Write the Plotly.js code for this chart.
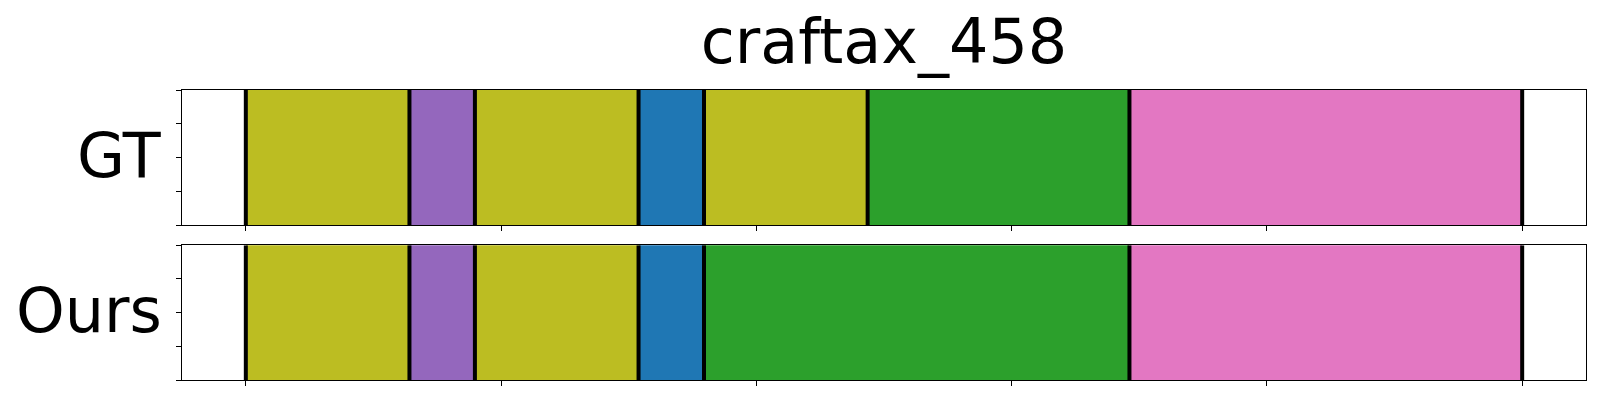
<!DOCTYPE html>
<html>
<head>
<meta charset="utf-8">
<script src="https://cdn.plot.ly/plotly-3.0.1.min.js"></script>
<style>html,body{margin:0;padding:0;background:#fff;}#chart{width:1600px;height:400px;}</style>
</head>
<body>
<div id="chart"></div>
<script>
// Segment data (category ids and lengths in steps)
var chartTitle = "craftax_458";
var rowLabels = ["GT", "Ours"];
var gtSegments = [8, 4, 8, 0, 8, 2, 6];
var gtLengths  = [5, 2, 5, 2, 5, 8, 12];
var oursSegments = [8, 4, 8, 0, 2, 6];
var oursLengths  = [5, 2, 5, 2, 13, 12];
var categoryColors = ["#1f77b4", "#ff7f0e", "#2ca02c", "#d62728", "#9467bd",
                      "#8c564b", "#e377c2", "#7f7f7f", "#bcbd22", "#17becf"];
var xTicks = [0, 0.2, 0.4, 0.6, 0.8, 1.0];
var yTicks = [0, 0.25, 0.5, 0.75, 1.0];

function buildTraces(segs, lens, xa, ya) {
  var total = lens.reduce(function (a, b) { return a + b; }, 0);
  var bases = [], widths = [], ys = [], colors = [];
  var lx = [], ly = [];
  var acc = 0;
  for (var i = 0; i < lens.length; i++) {
    var s = acc / total;
    var w = lens[i] / total;
    bases.push(s); widths.push(w); ys.push(0.5);
    colors.push(categoryColors[segs[i]]);
    lx.push(s, s, null); ly.push(0, 1, null);
    acc += lens[i];
  }
  lx.push(acc / total, acc / total, null); ly.push(0, 1, null);
  return [
    {type: "bar", orientation: "h", x: widths, base: bases, y: ys, width: 1,
     marker: {color: colors, line: {width: 0}}, xaxis: xa, yaxis: ya,
     hoverinfo: "skip", showlegend: false},
    {type: "scatter", mode: "lines", x: lx, y: ly, line: {color: "#000", width: 4},
     xaxis: xa, yaxis: ya, hoverinfo: "skip", showlegend: false, connectgaps: false}
  ];
}

var traces = buildTraces(gtSegments, gtLengths, "x", "y")
  .concat(buildTraces(oursSegments, oursLengths, "x2", "y2"));

function xAxis(anchor) {
  return {range: [-0.05, 1.05], tickvals: xTicks, showticklabels: false,
    ticks: "outside", ticklen: 5, tickwidth: 1, tickcolor: "#000",
    showline: true, linecolor: "#000", linewidth: 1, mirror: true,
    showgrid: false, zeroline: false, anchor: anchor, fixedrange: true};
}
function yAxis(domain, anchor) {
  return {range: [0, 1], domain: domain, tickvals: yTicks, showticklabels: false,
    ticks: "outside", ticklen: 5, tickwidth: 1, tickcolor: "#000",
    showline: true, linecolor: "#000", linewidth: 1, mirror: true,
    showgrid: false, zeroline: false, anchor: anchor, fixedrange: true};
}

var font = "DejaVu Sans, sans-serif";
var layout = {
  width: 1600, height: 400,
  margin: {l: 182, r: 14, t: 90, b: 20},
  paper_bgcolor: "#fff", plot_bgcolor: "#fff",
  barmode: "overlay", bargap: 0,
  title: {text: chartTitle, font: {family: font, size: 62, color: "#000"},
          x: 0.5, xref: "paper", y: 0.897, yref: "container", yanchor: "middle"},
  xaxis: xAxis("y"),
  yaxis: yAxis([0.5345, 1], "x"),
  xaxis2: xAxis("y2"),
  yaxis2: yAxis([0, 0.4645], "x2"),
  annotations: [
    {text: rowLabels[0], xref: "paper", yref: "paper", x: -0.0129, y: 0.774,
     xanchor: "right", yanchor: "middle", showarrow: false,
     font: {family: font, size: 62, color: "#000"}},
    {text: rowLabels[1], xref: "paper", yref: "paper", x: -0.0129, y: 0.239,
     xanchor: "right", yanchor: "middle", showarrow: false,
     font: {family: font, size: 62, color: "#000"}}
  ]
};

Plotly.newPlot("chart", traces, layout, {staticPlot: true, displayModeBar: false});
</script>
</body>
</html>
